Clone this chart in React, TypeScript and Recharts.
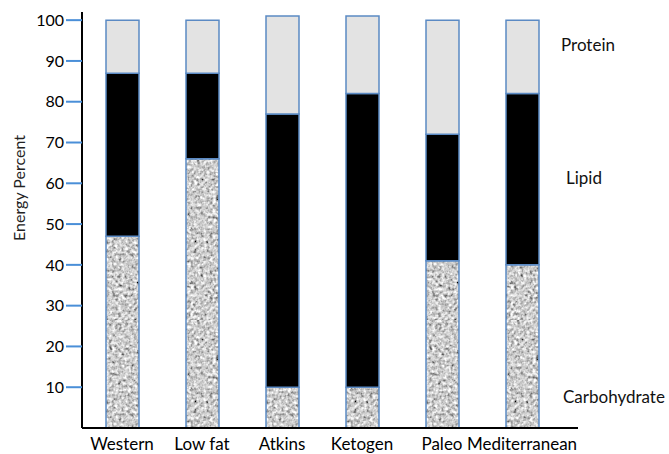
import { BarChart, Bar, XAxis, YAxis } from "recharts";

// energy share per diet (percent)
const diets = ["Western", "Low fat", "Atkins", "Ketogen", "Paleo", "Mediterranean"];
const carbohydrate = [47, 66, 10, 10, 41, 40];
const lipid = [40, 21, 67, 72, 31, 42];
const protein = [13, 13, 24, 19, 28, 18];
const yTicks = [10, 20, 30, 40, 50, 60, 70, 80, 90, 100];

const data = diets.map((diet, i) => ({
  diet,
  Carbohydrate: carbohydrate[i],
  Lipid: lipid[i],
  Protein: protein[i],
}));

const FONT = "Lato, 'Open Sans', sans-serif";
const OUTLINE = "#5b8ac4";

const sideLabel = (top: number, left: number) => ({
  position: "absolute" as const,
  top,
  left,
  fontFamily: FONT,
  fontSize: 17,
  color: "#111",
  lineHeight: "20px",
});

export default function App() {
  return (
    <div style={{ position: "absolute", left: 0, top: 0, width: 669, height: 454, background: "#fff" }}>
      <BarChart width={669} height={454} data={data} margin={{ top: 12, right: 91, bottom: 0, left: 0 }}>
        <defs>
          <filter id="grain" x="0" y="0" width="100%" height="100%">
            <feTurbulence type="fractalNoise" baseFrequency="0.32" numOctaves={2} seed={7} />
            <feColorMatrix
              type="matrix"
              values="0.33 0.33 0.33 0 0  0.33 0.33 0.33 0 0  0.33 0.33 0.33 0 0  0 0 0 0 1"
            />
            <feComponentTransfer>
              <feFuncR type="linear" slope={2.6} intercept={-0.68} />
              <feFuncG type="linear" slope={2.6} intercept={-0.68} />
              <feFuncB type="linear" slope={2.6} intercept={-0.68} />
            </feComponentTransfer>
          </filter>
          <pattern id="granite" patternUnits="userSpaceOnUse" width={160} height={160}>
            <rect width={160} height={160} fill="#aaa" filter="url(#grain)" />
          </pattern>
        </defs>
        <XAxis
          dataKey="diet"
          interval={0}
          height={26}
          tickLine={false}
          tickMargin={4}
          padding={{ left: 0, right: 16 }}
          axisLine={{ stroke: "#000", strokeWidth: 2 }}
          tick={{ fill: "#000", fontSize: 17, fontFamily: FONT }}
        />
        <YAxis
          width={82}
          domain={[0, 102]}
          ticks={yTicks}
          tickSize={16}
          tickMargin={2}
          axisLine={{ stroke: "#000", strokeWidth: 2 }}
          tickLine={{ stroke: "#4a8fd8", strokeWidth: 2 }}
          tick={{ fill: "#000", fontSize: 16, fontFamily: FONT }}
          label={{
            content: (props: any) => {
              const vb = props.viewBox;
              const cx = 18;
              const cy = vb.y + vb.height / 2 - 32;
              return (
                <text
                  x={cx}
                  y={cy}
                  transform={`rotate(-90, ${cx}, ${cy})`}
                  textAnchor="middle"
                  dominantBaseline="central"
                  fontFamily={FONT}
                  fontSize={16}
                  fill="#222"
                >
                  Energy Percent
                </text>
              );
            },
          }}
        />
        <Bar dataKey="Carbohydrate" stackId="a" barSize={33} fill="url(#granite)" stroke={OUTLINE} strokeWidth={1.5} isAnimationActive={false} />
        <Bar dataKey="Lipid" stackId="a" barSize={33} fill="#000" stroke={OUTLINE} strokeWidth={1.5} isAnimationActive={false} />
        <Bar dataKey="Protein" stackId="a" barSize={33} fill="#e3e3e3" stroke={OUTLINE} strokeWidth={1.5} isAnimationActive={false} />
      </BarChart>
      <div style={sideLabel(35, 561)}>Protein</div>
      <div style={sideLabel(168, 566)}>Lipid</div>
      <div style={sideLabel(387, 563)}>Carbohydrate</div>
    </div>
  );
}
